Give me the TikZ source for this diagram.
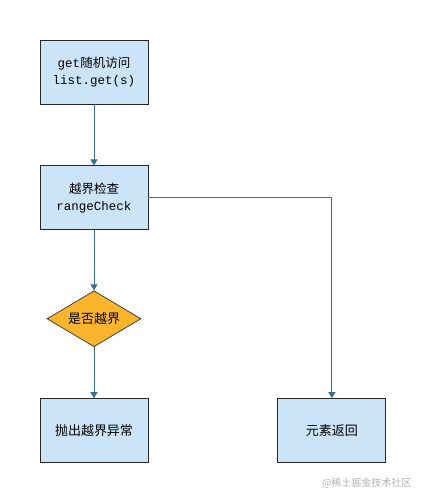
\documentclass[tikz,border=0pt]{standalone}
\usepackage{fontspec}
\setmonofont{Liberation Mono}
\newfontfamily\cjk{Noto Sans CJK SC}
\usepackage{xcolor}
\usetikzlibrary{positioning,arrows.meta,shapes.geometric}
\definecolor{boxfill}{HTML}{CCE4F7}
\definecolor{decfill}{HTML}{FBB52D}
\definecolor{linecol}{HTML}{3A6E8E}

\begin{document}
\begin{tikzpicture}[x=1pt, y=1pt,
  box/.style={draw=black!85, line width=0.9pt, fill=boxfill, align=center, font=\ttfamily\fontsize{12.5}{17}\selectfont, minimum width=108pt, minimum height=64pt, inner sep=0pt},
  dec/.style={draw=black!75, line width=0.8pt, diamond, aspect=1.68, fill=decfill, font=\cjk\fontsize{13}{15}\selectfont, minimum width=94pt, minimum height=56pt, inner sep=0pt},
  ar/.style={-{Triangle[length=6pt, width=7pt]}, draw=linecol, line width=0.9pt, color=linecol}]
\useasboundingbox (0,0) rectangle (425,-501);
\node[box] (get) at (94,-72) {get{\cjk 随机访问}\\list.get(s)};
\node[box, below=61pt of get] (check) {{\cjk 越界检查}\\rangeCheck};
\node[dec, below=60pt of check] (out) {是否越界};
\node[box, below=51pt of out, font=\cjk\fontsize{13}{17}\selectfont] (throw) {抛出越界异常};
\node[box, right=129pt of throw, font=\cjk\fontsize{13}{17}\selectfont] (ret) {元素返回};
\node[font=\cjk\fontsize{10}{12}\selectfont, text=black!30, anchor=east] (mark) at (415,-483) {@稀土掘金技术社区};
\draw[ar] (get) -- (check);
\draw[ar] (check) -- (out);
\draw[ar] (out) -- (throw);
\draw[ar] (check.east) -| (ret.north);
\end{tikzpicture}
\end{document}
